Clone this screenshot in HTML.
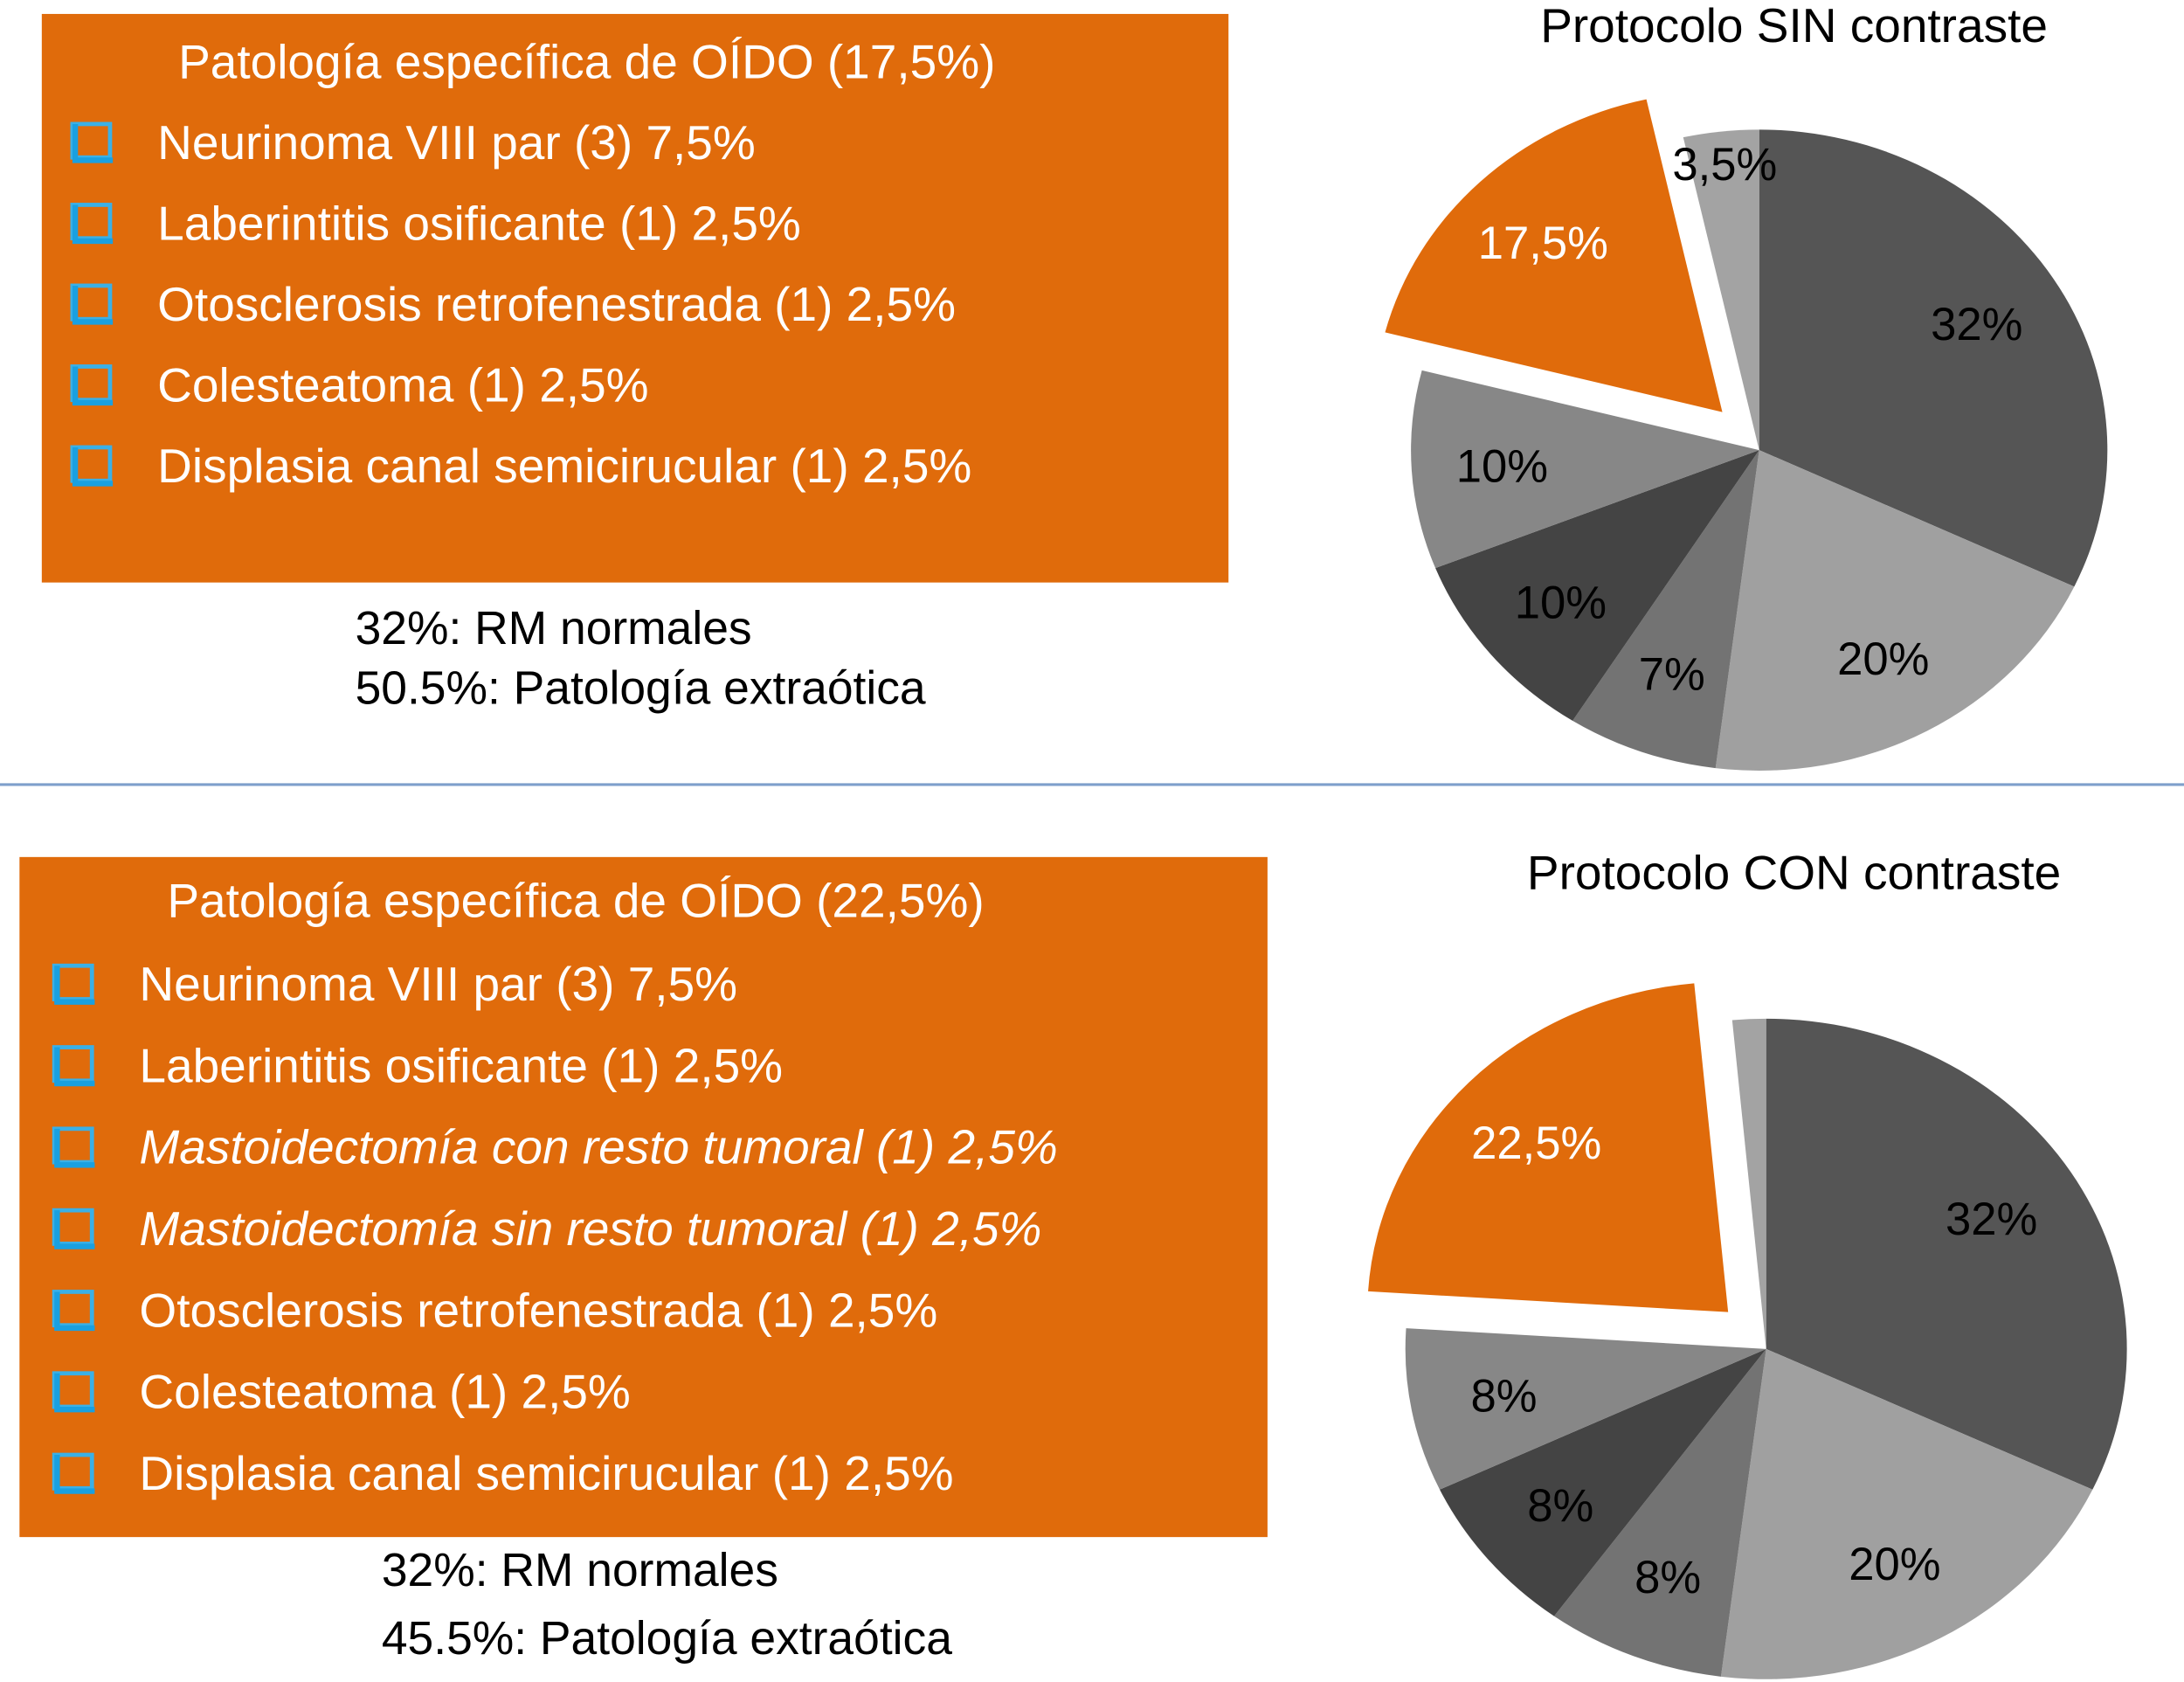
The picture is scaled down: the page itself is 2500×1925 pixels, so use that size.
<!DOCTYPE html>
<html><head><meta charset="utf-8">
<style>
html,body{margin:0;padding:0;background:#fff;}
svg{display:block;}
text{font-family:"Liberation Sans",sans-serif;}
</style></head>
<body>
<svg id="root" width="2500" height="1925" viewBox="0 0 1568 1207" preserveAspectRatio="none" xmlns="http://www.w3.org/2000/svg">
  <rect x="30" y="10" width="852" height="408" fill="#e06b0b"/>
  <text x="128" y="56" font-size="34.5" fill="#fff">Patología específica de OÍDO (17,5%)</text>
  <g id="topList"></g>
  <text x="255" y="462" font-size="33.5" fill="#000">32%: RM normales</text>
  <text x="255" y="505" font-size="33.5" fill="#000">50.5%: Patología extraótica</text>
  <text x="1288" y="30" font-size="34.5" fill="#000" text-anchor="middle">Protocolo SIN contraste</text>
  <g id="pieTop"></g>

  <line x1="0" y1="563" x2="1568" y2="563" stroke="#7e9fcb" stroke-width="2"/>

  <rect x="14" y="615" width="896" height="488" fill="#e06b0b"/>
  <text x="120" y="658" font-size="34.5" fill="#fff">Patología específica de OÍDO (22,5%)</text>
  <g id="botList"></g>
  <text x="274" y="1138" font-size="33.5" fill="#000">32%: RM normales</text>
  <text x="274" y="1187" font-size="33.5" fill="#000">45.5%: Patología extraótica</text>
  <text x="1288" y="638" font-size="34.5" fill="#000" text-anchor="middle">Protocolo CON contraste</text>
  <g id="pieBot"></g>
</svg>
<script>
var NS = "http://www.w3.org/2000/svg";
// chart data
var topValues = [32, 20, 7, 10, 10, 17.5, 3.5];
var topLabels = ["32%", "20%", "7%", "10%", "10%", "17,5%", "3,5%"];
var botValues = [32, 20, 8, 8, 8, 22.5, 1.5];
var botLabels = ["32%", "20%", "8%", "8%", "8%", "22,5%", ""];
var sliceColors = ["#555555", "#a0a0a0", "#737373", "#444444", "#878787", "#e06b0b", "#a3a3a3"];
var explodedIndex = 5;
var topItems = ["Neurinoma VIII par (3) 7,5%", "Laberintitis osificante (1) 2,5%", "Otosclerosis retrofenestrada (1) 2,5%", "Colesteatoma (1) 2,5%", "Displasia canal semicirucular (1) 2,5%"];
var botItems = ["Neurinoma VIII par (3) 7,5%", "Laberintitis osificante (1) 2,5%", "Mastoidectomía con resto tumoral (1) 2,5%", "Mastoidectomía sin resto tumoral (1) 2,5%", "Otosclerosis retrofenestrada (1) 2,5%", "Colesteatoma (1) 2,5%", "Displasia canal semicirucular (1) 2,5%"];
var botItalic = [false, false, true, true, false, false, false];

function mk(tag, attrs){var e=document.createElementNS(NS,tag);for(var k in attrs)e.setAttribute(k,attrs[k]);return e;}

function drawList(g, items, italic, bx, tx, y0, step){
  items.forEach(function(t,i){
    var y=y0+i*step;
    var box=mk('rect',{x:bx,y:y-13,width:27,height:24,fill:'none',stroke:'#3bb0e6','stroke-width':3});
    
    
    g.appendChild(box);
    var sh=mk('path',{d:'M'+bx+' '+(y-13)+' v28 h29 v-4 h-25 v-24 z',fill:'#1aa0e0'});
    
    
    g.appendChild(sh);
    var tt=mk('text',{x:tx,y:y+12,'font-size':34.5,fill:'#fff'});
    if(italic&&italic[i])tt.setAttribute('font-style','italic');
    tt.textContent=t;
    
    
    g.appendChild(tt);
  });
}
drawList(document.getElementById('topList'), topItems, null, 52, 113, 102, 58);
drawList(document.getElementById('botList'), botItems, botItalic, 39, 100, 706, 58.5);

function drawPie(g, values, labels, cx, cy, rx, ry, explode, labelR){
  var total=values.reduce(function(a,b){return a+b;},0);
  var acc=0;
  function pt(a,ox,oy,f){return [cx+ox+rx*f*Math.sin(a), cy+oy-ry*f*Math.cos(a)];}
  values.forEach(function(v,i){
    var a0=acc/total*2*Math.PI; acc+=v; var a1=acc/total*2*Math.PI;
    var mid=(a0+a1)/2, ox=0, oy=0;
    if(i===explodedIndex){ox=explode*Math.sin(mid);oy=-explode*Math.cos(mid);}
    var p0=pt(a0,ox,oy,1), p1=pt(a1,ox,oy,1);
    var large=(a1-a0)>Math.PI?1:0;
    var d='M'+(cx+ox)+' '+(cy+oy)+' L'+p0[0]+' '+p0[1]+' A'+rx+' '+ry+' 0 '+large+' 1 '+p1[0]+' '+p1[1]+' Z';
    var s=mk('path',{d:d,fill:sliceColors[i]});
    
    
    g.appendChild(s);
  });
  acc=0;
  values.forEach(function(v,i){
    var a0=acc/total*2*Math.PI; acc+=v; var a1=acc/total*2*Math.PI;
    var mid=(a0+a1)/2, ox=0, oy=0, f=labelR;
    if(i===explodedIndex){ox=explode*Math.sin(mid);oy=-explode*Math.cos(mid);}
    if(v<5) f=0.9;
    if(!labels[i])return;
    var p=pt(mid,ox,oy,f);
    var t=mk('text',{x:p[0],y:p[1]+12,'font-size':33,'text-anchor':'middle',fill:(i===explodedIndex?'#fff':'#000')});
    t.textContent=labels[i];
    
    
    g.appendChild(t);
  });
}
drawPie(document.getElementById('pieTop'), topValues, topLabels, 1263, 323, 250, 230, 38, 0.74);
drawPie(document.getElementById('pieBot'), botValues, botLabels, 1268, 968, 259, 237, 38, 0.74);
</script>
</body></html>
